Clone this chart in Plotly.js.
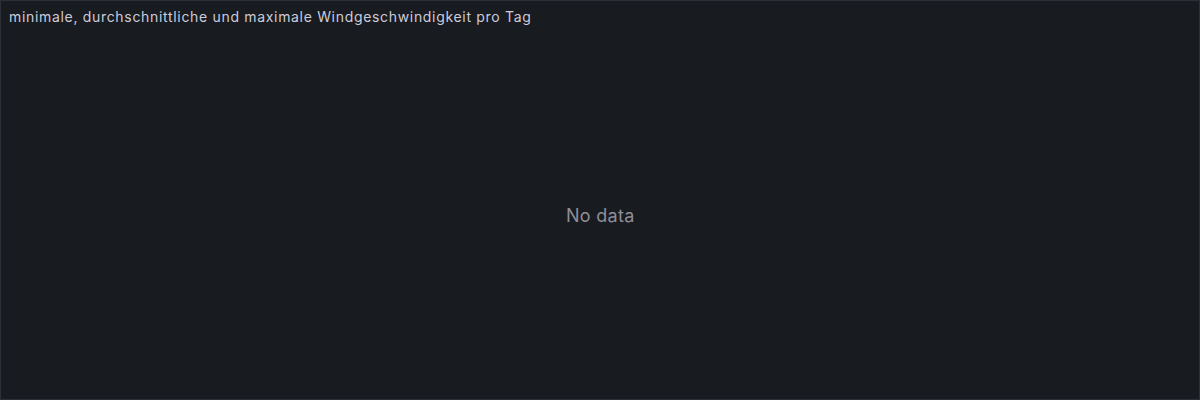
<!DOCTYPE html>
<html>
<head>
<meta charset="utf-8">
<script src="https://cdn.plot.ly/plotly-3.0.1.min.js"></script>
<style>
  html, body { margin: 0; padding: 0; background: #181b1f; }
  #chart { width: 1200px; height: 400px; }
  /* the panel header is drawn a bit looser than plain Inter */
  #chart .gtitle { letter-spacing: 0.68px; }
  #chart .annotation-text { letter-spacing: 0.3px; }
</style>
</head>
<body>
<div id="chart"></div>
<script>
// Panel returned no rows: the three series are empty.
const days = [];
const minWind = [];
const avgWind = [];
const maxWind = [];

const PANEL_TITLE = "minimale, durchschnittliche und maximale Windgeschwindigkeit pro Tag";
const EMPTY_TEXT = "No data";

const traces = [
  { x: days, y: minWind, type: "scatter", mode: "lines", name: "min" },
  { x: days, y: avgWind, type: "scatter", mode: "lines", name: "avg" },
  { x: days, y: maxWind, type: "scatter", mode: "lines", name: "max" },
];

const hiddenAxis = { visible: false, showgrid: false, zeroline: false, range: [0, 1], fixedrange: true };

const layout = {
  width: 1200,
  height: 400,
  margin: { l: 0, r: 0, t: 0, b: 0 },
  paper_bgcolor: "#181b1f",
  plot_bgcolor: "#181b1f",
  showlegend: false,
  font: { family: "Inter, 'Noto Sans', sans-serif", color: "#ccccdc" },
  title: {
    text: PANEL_TITLE,
    font: { size: 14, color: "#ccccdc", family: "Inter, sans-serif" },
    xref: "container",
    yref: "container",
    x: 9 / 1200,
    xanchor: "left",
    y: 1 - 17 / 400,
    yanchor: "middle",
  },
  xaxis: hiddenAxis,
  yaxis: hiddenAxis,
  shapes: [
    {
      type: "rect",
      xref: "paper",
      yref: "paper",
      x0: 0.5 / 1200,
      x1: 1 - 0.5 / 1200,
      y0: 0.5 / 400,
      y1: 1 - 0.5 / 400,
      line: { color: "#2c3036", width: 1 },
    },
  ],
  annotations: [
    {
      text: EMPTY_TEXT,
      xref: "paper",
      yref: "paper",
      x: 0.5,
      y: 1 - 215 / 400,
      xanchor: "center",
      yanchor: "middle",
      showarrow: false,
      font: { size: 18, color: "#8e8e99", family: "Inter, sans-serif" },
    },
  ],
};

Plotly.newPlot("chart", traces, layout, { staticPlot: true, displayModeBar: false });
</script>
</body>
</html>
